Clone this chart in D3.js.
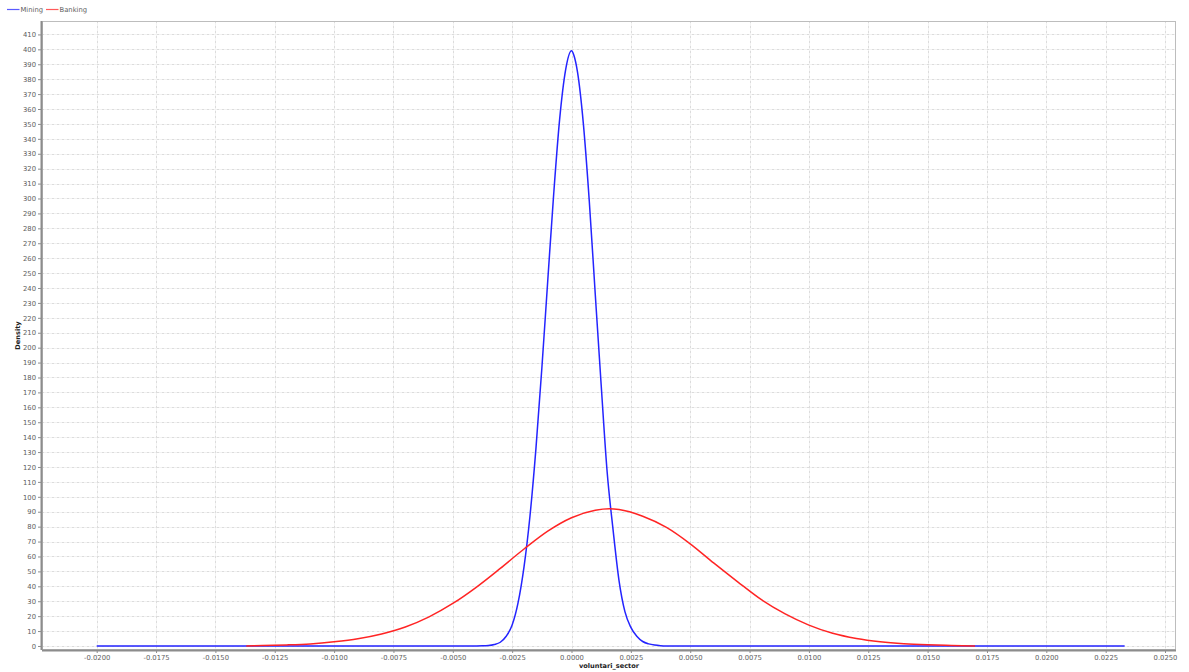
<!DOCTYPE html>
<html>
<head>
<meta charset="utf-8">
<script src="https://cdn.jsdelivr.net/npm/d3@7/dist/d3.min.js"></script>
<style>
  html, body { margin: 0; padding: 0; background: #ffffff; }
  svg { display: block; font-family: "DejaVu Sans", sans-serif; }
</style>
</head>
<body>
<svg id="chart" width="1189" height="672"></svg>
<script>
// Kernel density estimates of voluntari_sector by sector
const miningX = [-0.0200, -0.0040, -0.00375, -0.0035, -0.00325, -0.0030, -0.00275, -0.0025,
  -0.00225, -0.0020, -0.00175, -0.0015, -0.00125, -0.0010, -0.00075, -0.0005, -0.00025,
  0.0000, 0.0001, 0.00025, 0.0005, 0.00075, 0.0010, 0.00125, 0.0015, 0.00175, 0.0020,
  0.00225, 0.0025, 0.00275, 0.0030, 0.00325, 0.0035, 0.00375, 0.0040, 0.0233];
const miningDensity = [0, 0.05, 0.1, 0.3, 1.0, 2.5, 6.5, 14,
  29, 53, 87, 132, 186, 245, 303, 353, 386,
  399, 396, 385, 350, 298, 236, 175, 117, 78, 44,
  23, 12.5, 6.5, 3, 1.4, 0.6, 0.2, 0.05, 0];

const bankingX = [-0.0137, -0.0130, -0.0120, -0.0110, -0.0100, -0.0090, -0.0080, -0.0070,
  -0.0060, -0.0050, -0.0040, -0.0030, -0.0020, -0.0010, 0.0000, 0.0010, 0.0016, 0.0020,
  0.0030, 0.0040, 0.0050, 0.0060, 0.0070, 0.0080, 0.0090, 0.0100, 0.0110, 0.0120,
  0.0130, 0.0140, 0.0150, 0.0160, 0.0170];
const bankingDensity = [0, 0.3, 0.7, 1.4, 2.8, 4.8, 8.0, 12.7,
  19.5, 28.5, 39.5, 52, 65, 77, 86, 91, 92, 91.5,
  87, 79.5, 68.5, 55.5, 43, 31, 21.5, 14, 8.5, 5,
  2.8, 1.5, 0.8, 0.4, 0];

const seriesNames = ["Mining", "Banking"];
const seriesColors = ["#2424ff", "#ff2424"];

const xTicks = d3.range(-8, 11).map(i => i * 0.0025);
const yTicks = d3.range(0, 411, 10);

const xLabel = "voluntari_sector";
const yLabel = "Density";

const svg = d3.select("#chart");
const plot = { left: 42, right: 1176, top: 21, bottom: 650 };

const x = d3.scaleLinear().domain([-0.022304, 0.025463]).range([plot.left, plot.right]);
const y = d3.scaleLinear().domain([-2.7, 419]).range([plot.bottom, plot.top]);

// plot background
svg.append("rect")
  .attr("x", plot.left).attr("y", plot.top)
  .attr("width", plot.right - plot.left).attr("height", plot.bottom - plot.top)
  .attr("fill", "#ffffff");

// grid lines: faint solid line with a dotted overlay
const gridLayer = (color, dash) => {
  const g = svg.append("g").attr("stroke", color).attr("stroke-width", 1)
    .attr("shape-rendering", "crispEdges");
  if (dash) g.attr("stroke-dasharray", dash);
  g.selectAll("line.v").data(xTicks).join("line").attr("class", "v")
    .attr("x1", d => Math.round(x(d)) + 0.5).attr("x2", d => Math.round(x(d)) + 0.5)
    .attr("y1", plot.top).attr("y2", plot.bottom);
  g.selectAll("line.h").data(yTicks).join("line").attr("class", "h")
    .attr("y1", d => Math.round(y(d)) + 0.5).attr("y2", d => Math.round(y(d)) + 0.5)
    .attr("x1", plot.left).attr("x2", plot.right);
};
gridLayer("#f2f2f2", null);
gridLayer("#dcdcdc", "2,3");

// plot outline
svg.append("rect")
  .attr("x", plot.left + 0.5).attr("y", plot.top + 0.5)
  .attr("width", plot.right - plot.left - 1).attr("height", plot.bottom - plot.top - 1)
  .attr("fill", "none").attr("stroke", "#bdbdbd").attr("stroke-width", 1);

// curves
svg.append("clipPath").attr("id", "plotClip").append("rect")
  .attr("x", plot.left).attr("y", plot.top)
  .attr("width", plot.right - plot.left).attr("height", plot.bottom - plot.top);

const line = d3.line().x(d => x(d[0])).y(d => y(d[1])).curve(d3.curveMonotoneX);
const series = [
  d3.zip(miningX, miningDensity),
  d3.zip(bankingX, bankingDensity)
];
const curves = svg.append("g").attr("clip-path", "url(#plotClip)");
curves.selectAll("path").data(series).join("path")
  .attr("d", line)
  .attr("fill", "none")
  .attr("stroke", (d, i) => seriesColors[i])
  .attr("stroke-width", 1.5)
  .attr("stroke-linejoin", "round");

// axes
const tickFont = 6.8;
const yAxis = d3.axisLeft(y).tickValues(yTicks).tickFormat(d3.format("d")).tickSize(3).tickPadding(2);
const gy = svg.append("g").attr("transform", `translate(${plot.left - 1},0)`).call(yAxis);
const xAxis = d3.axisBottom(x).tickValues(xTicks).tickFormat(d3.format(".4f")).tickSize(3).tickPadding(2);
const gx = svg.append("g").attr("transform", `translate(0,${plot.bottom})`).call(xAxis);

[gx, gy].forEach(g => {
  g.select(".domain").attr("stroke", "#8c8c8c").attr("stroke-width", 2);
  g.selectAll(".tick line").attr("stroke", "#8c8c8c");
  g.selectAll(".tick text").attr("fill", "#606060")
    .attr("font-size", tickFont).attr("font-family", "DejaVu Sans, sans-serif");
});
gx.select(".domain").attr("d", `M${plot.left},0.5H${plot.right}`);
gy.select(".domain").attr("d", `M0.5,${plot.top}V${plot.bottom}`);
gx.selectAll(".tick text").text(d => d3.format(".4f")(d).replace("−", "-"));
gy.selectAll(".tick text").text(d => d);

// axis titles
svg.append("text")
  .attr("x", (plot.left + plot.right) / 2).attr("y", 668)
  .attr("text-anchor", "middle").attr("font-size", 6.6).attr("font-weight", "bold")
  .attr("fill", "#222222").text(xLabel);
svg.append("text")
  .attr("transform", `translate(20,${(plot.top + plot.bottom) / 2}) rotate(-90)`)
  .attr("text-anchor", "middle").attr("font-size", 6.6).attr("font-weight", "bold")
  .attr("fill", "#222222").text(yLabel);

// legend
const legendItems = [
  { x: 7, label: seriesNames[0], color: seriesColors[0] },
  { x: 46, label: seriesNames[1], color: seriesColors[1] }
];
const legend = svg.append("g");
legendItems.forEach(item => {
  legend.append("line")
    .attr("x1", item.x).attr("x2", item.x + 12.5)
    .attr("y1", 9.5).attr("y2", 9.5)
    .attr("stroke", item.color).attr("stroke-width", 1.2).attr("opacity", 0.75);
  legend.append("text")
    .attr("x", item.x + 13.5).attr("y", 12)
    .attr("font-size", 6.8).attr("fill", "#606060").text(item.label);
});
</script>
</body>
</html>
